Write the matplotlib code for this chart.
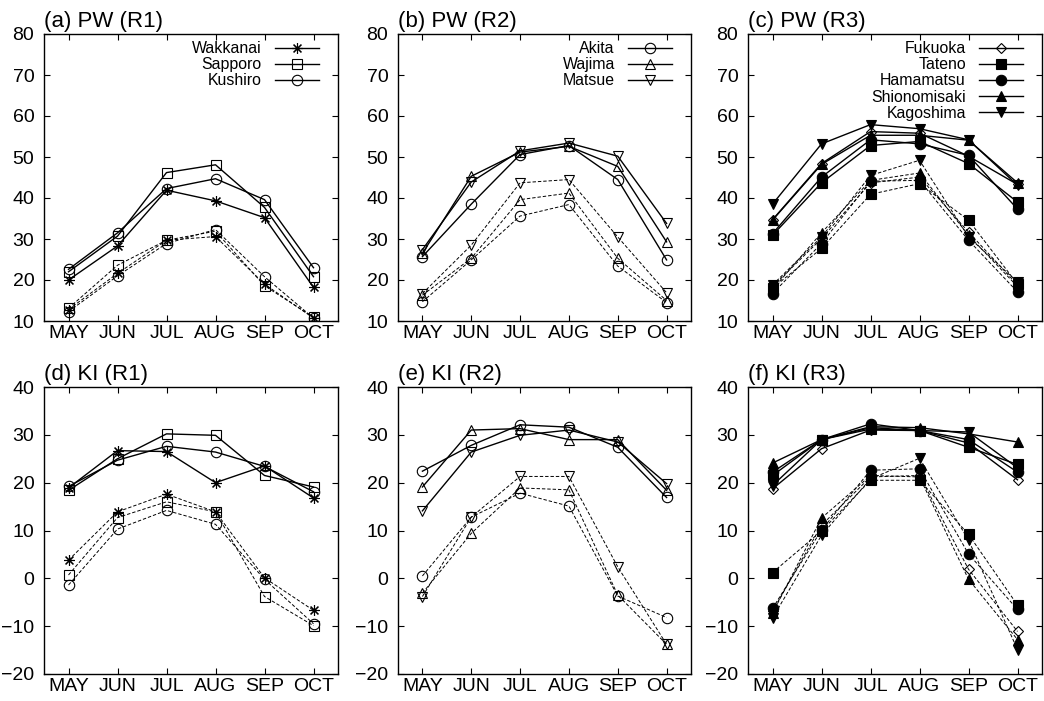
import matplotlib

matplotlib.use("Agg")
import matplotlib.pyplot as plt

MONTHS = ["MAY", "JUN", "JUL", "AUG", "SEP", "OCT"]

# stations per region, in legend order
STATIONS_R1 = ["Wakkanai", "Sapporo", "Kushiro"]
STATIONS_R2 = ["Akita", "Wajima", "Matsue"]
STATIONS_R3 = ["Fukuoka", "Tateno", "Hamamatsu", "Shionomisaki", "Kagoshima"]

# PW, solid / dashed series (one row per station)
PW_R1_SOLID = [
    [20.0, 28.3, 41.9, 39.3, 35.2, 18.2],
    [22.0, 30.7, 46.2, 48.1, 37.7, 20.8],
    [22.6, 31.5, 42.3, 44.7, 39.6, 23.0],
]
PW_R1_DASHED = [
    [12.8, 21.6, 29.7, 30.6, 19.0, 10.7],
    [13.1, 23.6, 29.7, 31.9, 18.6, 10.9],
    [12.3, 21.0, 28.9, 32.3, 20.8, 10.7],
]
PW_R2_SOLID = [
    [25.7, 38.5, 50.6, 52.8, 44.5, 24.9],
    [26.5, 45.3, 51.2, 52.6, 47.7, 29.3],
    [27.4, 43.9, 51.5, 53.4, 50.2, 33.8],
]
PW_R2_DASHED = [
    [14.7, 24.9, 35.6, 38.4, 23.4, 14.5],
    [16.3, 25.3, 39.6, 41.2, 25.3, 15.0],
    [16.7, 28.5, 43.7, 44.5, 30.5, 16.9],
]
PW_R3_SOLID = [
    [34.7, 48.4, 56.2, 55.8, 50.2, 43.3],
    [30.9, 43.7, 52.8, 53.8, 48.4, 39.0],
    [31.3, 45.1, 54.2, 53.2, 50.4, 37.3],
    [34.6, 48.2, 55.3, 55.3, 54.1, 43.7],
    [38.5, 53.2, 57.9, 56.9, 54.2, 43.1],
]
PW_R3_DASHED = [
    [18.4, 30.1, 43.7, 45.1, 31.7, 18.8],
    [18.0, 27.7, 40.9, 43.5, 34.6, 19.0],
    [16.7, 28.9, 44.1, 44.3, 29.7, 17.1],
    [17.7, 31.5, 44.3, 46.1, 30.9, 18.4],
    [18.8, 30.5, 45.5, 49.2, 30.5, 19.5],
]

# KI, solid / dashed series
KI_R1_SOLID = [
    [18.9, 26.7, 26.5, 20.0, 23.5, 16.8],
    [18.4, 25.0, 30.2, 29.9, 21.5, 19.1],
    [19.2, 24.7, 27.6, 26.4, 23.4, 18.1],
]
KI_R1_DASHED = [
    [3.8, 13.9, 17.6, 13.9, 0.1, -6.7],
    [0.7, 12.7, 16.0, 13.9, -3.8, -9.9],
    [-1.4, 10.3, 14.2, 11.3, -0.2, -9.5],
]
KI_R2_SOLID = [
    [22.4, 27.8, 32.1, 31.6, 27.4, 16.9],
    [19.1, 31.0, 31.3, 29.0, 29.0, 18.4],
    [14.1, 26.4, 29.9, 31.0, 28.5, 19.8],
]
KI_R2_DASHED = [
    [0.5, 12.8, 17.8, 15.1, -3.7, -8.2],
    [-3.1, 9.4, 18.9, 18.5, -3.5, -13.8],
    [-3.8, 12.8, 21.3, 21.3, 2.4, -13.8],
]
KI_R3_SOLID = [
    [18.7, 27.1, 31.0, 30.9, 28.3, 20.6],
    [21.5, 29.0, 31.2, 30.9, 27.4, 23.8],
    [22.2, 29.0, 32.3, 30.9, 29.0, 22.2],
    [24.1, 29.0, 31.7, 31.5, 30.2, 28.5],
    [19.4, 29.0, 31.5, 30.9, 30.6, 23.1],
]
KI_R3_DASHED = [
    [-6.9, 11.1, 21.2, 21.5, 1.9, -11.1],
    [1.2, 9.9, 20.5, 20.5, 9.2, -5.6],
    [-6.3, 10.1, 22.6, 22.9, 5.1, -6.5],
    [-7.3, 12.6, 21.5, 21.2, -0.2, -12.8],
    [-8.3, 9.0, 20.8, 25.1, 8.0, -14.9],
]

STAR = (8, 2, 0)
MARKERS = {
    "Wakkanai": (STAR, "none"), "Sapporo": ("s", "none"), "Kushiro": ("o", "none"),
    "Akita": ("o", "none"), "Wajima": ("^", "none"), "Matsue": ("v", "none"),
    "Fukuoka": ("D", "none"), "Tateno": ("s", "black"), "Hamamatsu": ("o", "black"),
    "Shionomisaki": ("^", "black"), "Kagoshima": ("v", "black"),
}
MSIZE = {"D": 5.4, "^": 7.4, "v": 7.4}

plt.rcParams["font.family"] = ["Liberation Sans", "DejaVu Sans"]

W, H = 1044, 701
COLS = [(44, 338), (398, 691), (748, 1042)]
ROWS = [(34, 321), (387, 674)]


def add_ax(fig, col, row):
    x0, x1 = COLS[col]
    y0, y1 = ROWS[row]
    return fig.add_axes([x0 / W, 1 - y1 / H, (x1 - x0) / W, (y1 - y0) / H])


def draw_panel(ax, stations, solid, dashed, ylim, yticks, title, legend):
    x = range(len(MONTHS))
    for name, ys, yd in zip(stations, solid, dashed):
        mk, fc = MARKERS[name]
        ms = MSIZE.get(mk, 7.5) if isinstance(mk, str) else 7.8
        ax.plot(x, ys, "-", color="black", lw=1.0, marker=mk, ms=ms, mfc=fc,
                mec="black", mew=0.8, label=name)
        ax.plot(x, yd, color="black", lw=0.7, ls=(0, (3.5, 2.0)), marker=mk, ms=ms,
                mfc=fc, mec="black", mew=0.8)
    ax.set_xlim(-0.5, 5.5)
    ax.set_ylim(*ylim)
    ax.set_yticks(yticks)
    ax.set_xticks(list(x))
    ax.set_xticklabels(MONTHS)
    ax.tick_params(direction="in", length=4.5, width=0.8, labelsize=14,
                   top=True, right=True)
    ax.tick_params(axis="y", pad=7.0)
    ax.tick_params(axis="x", pad=3.0)
    for sp in ax.spines.values():
        sp.set_linewidth(1.0)
    ax.set_title(title, loc="left", fontsize=16, pad=5)
    if legend:
        ax.legend(loc="upper right", bbox_to_anchor=(0.935, 0.975), frameon=False,
                  markerfirst=False, fontsize=11.4, handlelength=2.8,
                  handletextpad=0.8, labelspacing=0.07, borderpad=0,
                  borderaxespad=0, numpoints=1)


fig = plt.figure(figsize=(W / 100, H / 100), dpi=100)

pw_ticks = list(range(10, 81, 10))
ki_ticks = list(range(-20, 41, 10))

draw_panel(add_ax(fig, 0, 0), STATIONS_R1, PW_R1_SOLID, PW_R1_DASHED,
           (10, 80), pw_ticks, "(a) PW (R1)", True)
draw_panel(add_ax(fig, 1, 0), STATIONS_R2, PW_R2_SOLID, PW_R2_DASHED,
           (10, 80), pw_ticks, "(b) PW (R2)", True)
draw_panel(add_ax(fig, 2, 0), STATIONS_R3, PW_R3_SOLID, PW_R3_DASHED,
           (10, 80), pw_ticks, "(c) PW (R3)", True)
draw_panel(add_ax(fig, 0, 1), STATIONS_R1, KI_R1_SOLID, KI_R1_DASHED,
           (-20, 40), ki_ticks, "(d) KI (R1)", False)
draw_panel(add_ax(fig, 1, 1), STATIONS_R2, KI_R2_SOLID, KI_R2_DASHED,
           (-20, 40), ki_ticks, "(e) KI (R2)", False)
draw_panel(add_ax(fig, 2, 1), STATIONS_R3, KI_R3_SOLID, KI_R3_DASHED,
           (-20, 40), ki_ticks, "(f) KI (R3)", False)

fig.savefig("out.png", dpi=100)
